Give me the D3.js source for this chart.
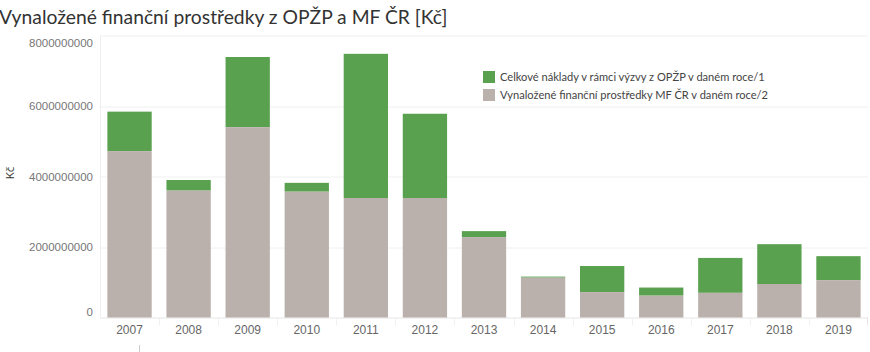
<!DOCTYPE html>
<html>
<head>
<meta charset="utf-8">
<script src="https://cdn.jsdelivr.net/npm/d3@7"></script>
<style>
	body { margin: 0; background: #fff; overflow: hidden; }
	svg { display: block; font-family: "Open Sans", "Noto Sans", sans-serif; }
</style>
</head>
<body>
<div id="chart"></div>
<script>
// DATA
const years = ["2007", "2008", "2009", "2010", "2011", "2012", "2013", "2014", "2015", "2016", "2017", "2018", "2019"];
// total height of each bar (OPŽP costs, stacked top)
const totals = [5.84e9, 3.90e9, 7.39e9, 3.82e9, 7.48e9, 5.78e9, 2.45e9, 1.16e9, 1.46e9, 0.85e9, 1.69e9, 2.08e9, 1.74e9];
// grey part (MF ČR)
const mfValues = [4.72e9, 3.60e9, 5.40e9, 3.57e9, 3.39e9, 3.39e9, 2.28e9, 1.13e9, 0.72e9, 0.62e9, 0.70e9, 0.95e9, 1.06e9];
const yTicks = [0, 2000000000, 4000000000, 6000000000, 8000000000];
const legendLabels = [
	"Celkové náklady v rámci výzvy z OPŽP v daném roce/1",
	"Vynaložené finanční prostředky MF ČR v daném roce/2"
];

const outerWidth = 870;
const outerHeight = 352;
const margin = { top: 35.5, right: 2, bottom: 34.5, left: 100 };
const width = outerWidth - margin.left - margin.right;
const height = outerHeight - margin.top - margin.bottom;

const green = "#59a14f";
const grey = "#bab0ac";

const svg = d3.select("#chart").append("svg")
	.attr("width", outerWidth)
	.attr("height", outerHeight);

svg.append("text")
	.attr("x", -1)
	.attr("y", 24)
	.style("font-family", "Lato, sans-serif")
	.style("font-size", "19.3px")
	.style("fill", "#333")
	.text("Vynaložené finanční prostředky z OPŽP a MF ČR [Kč]");

const g = svg.append("g")
	.attr("transform", `translate(${margin.left}, ${margin.top})`);

const x = d3.scaleBand()
	.domain(years)
	.range([0, width])
	.paddingInner(0.25)
	.paddingOuter(0.125);

const y = d3.scaleLinear()
	.domain([0, 8000000000])
	.range([height, 0]);

// gridlines
g.append("g")
	.selectAll("line")
	.data(yTicks)
	.enter()
	.append("line")
	.attr("x1", 0)
	.attr("x2", width)
	.attr("y1", d => Math.round(y(d)) + 0.5)
	.attr("y2", d => Math.round(y(d)) + 0.5)
	.attr("stroke", d => d === 0 ? "#e6e6e6" : "#f0f0f0");

// left border of plot
g.append("line")
	.attr("x1", 0.5).attr("x2", 0.5)
	.attr("y1", 0).attr("y2", height)
	.attr("stroke", "#eeeeee");
g.append("line")
	.attr("x1", width - 0.5).attr("x2", width - 0.5)
	.attr("y1", height).attr("y2", height + 8)
	.attr("stroke", "#e6e6e6");

// y axis
const yAxis = g.append("g")
	.call(d3.axisLeft(y).tickValues(yTicks).tickFormat(d3.format("d")).tickSize(0).tickPadding(7));
yAxis.select(".domain").remove();
yAxis.selectAll("text")
	.style("font-size", "11.5px")
	.style("fill", "#777")
	.attr("dy", (d, i) => d === 8000000000 ? "0.95em" : d === 0 ? "-0.2em" : "0.32em");

svg.append("text")
	.attr("transform", `translate(14, 173) rotate(-90)`)
	.attr("text-anchor", "middle")
	.style("font-size", "11.5px")
	.style("fill", "#333")
	.text("Kč");

// x axis
const xAxis = g.append("g")
	.attr("transform", `translate(0, ${height})`)
	.call(d3.axisBottom(x).tickSize(0).tickPadding(8));
xAxis.select(".domain").remove();
xAxis.selectAll("text")
	.style("font-size", "12px")
	.style("fill", "#666");

// separators between categories
g.append("g")
	.selectAll("line")
	.data(years.slice(1))
	.enter()
	.append("line")
	.attr("x1", d => Math.round(x(d) - x.step() * 0.125) + 0.5)
	.attr("x2", d => Math.round(x(d) - x.step() * 0.125) + 0.5)
	.attr("y1", height)
	.attr("y2", height + 8)
	.attr("stroke", "#f0f0f0");

// bars
g.append("g")
	.selectAll("rect")
	.data(years)
	.enter()
	.append("rect")
	.attr("x", d => x(d))
	.attr("width", x.bandwidth())
	.attr("y", (d, i) => y(totals[i]))
	.attr("height", (d, i) => y(mfValues[i]) - y(totals[i]))
	.attr("fill", green);

g.append("g")
	.selectAll("rect")
	.data(years)
	.enter()
	.append("rect")
	.attr("x", d => x(d))
	.attr("width", x.bandwidth())
	.attr("y", (d, i) => y(mfValues[i]))
	.attr("height", (d, i) => height - y(mfValues[i]))
	.attr("fill", grey);

// legend
const legend = svg.selectAll(".legend")
	.data([{ label: legendLabels[0], color: green }, { label: legendLabels[1], color: grey }])
	.enter()
	.append("g")
	.attr("class", "legend")
	.attr("transform", (d, i) => `translate(483, ${71 + i * 18})`);

legend.append("rect")
	.attr("width", 12)
	.attr("height", 12)
	.attr("fill", d => d.color);

legend.append("text")
	.attr("x", 17)
	.attr("y", 6)
	.attr("dy", ".35em")
	.style("font-family", "Lato, sans-serif")
	.style("font-size", "11.1px")
	.style("fill", "#444")
	.text(d => d.label);

// bottom remnants (cut off axis title)
svg.append("line")
	.attr("x1", 139.5).attr("x2", 139.5)
	.attr("y1", 345).attr("y2", 352)
	.attr("stroke", "#ccc");
svg.append("text")
	.attr("x", 505)
	.attr("y", 362)
	.attr("text-anchor", "middle")
	.style("font-size", "12px")
	.style("fill", "#333")
	.text("Kč");
</script>
</body>
</html>
